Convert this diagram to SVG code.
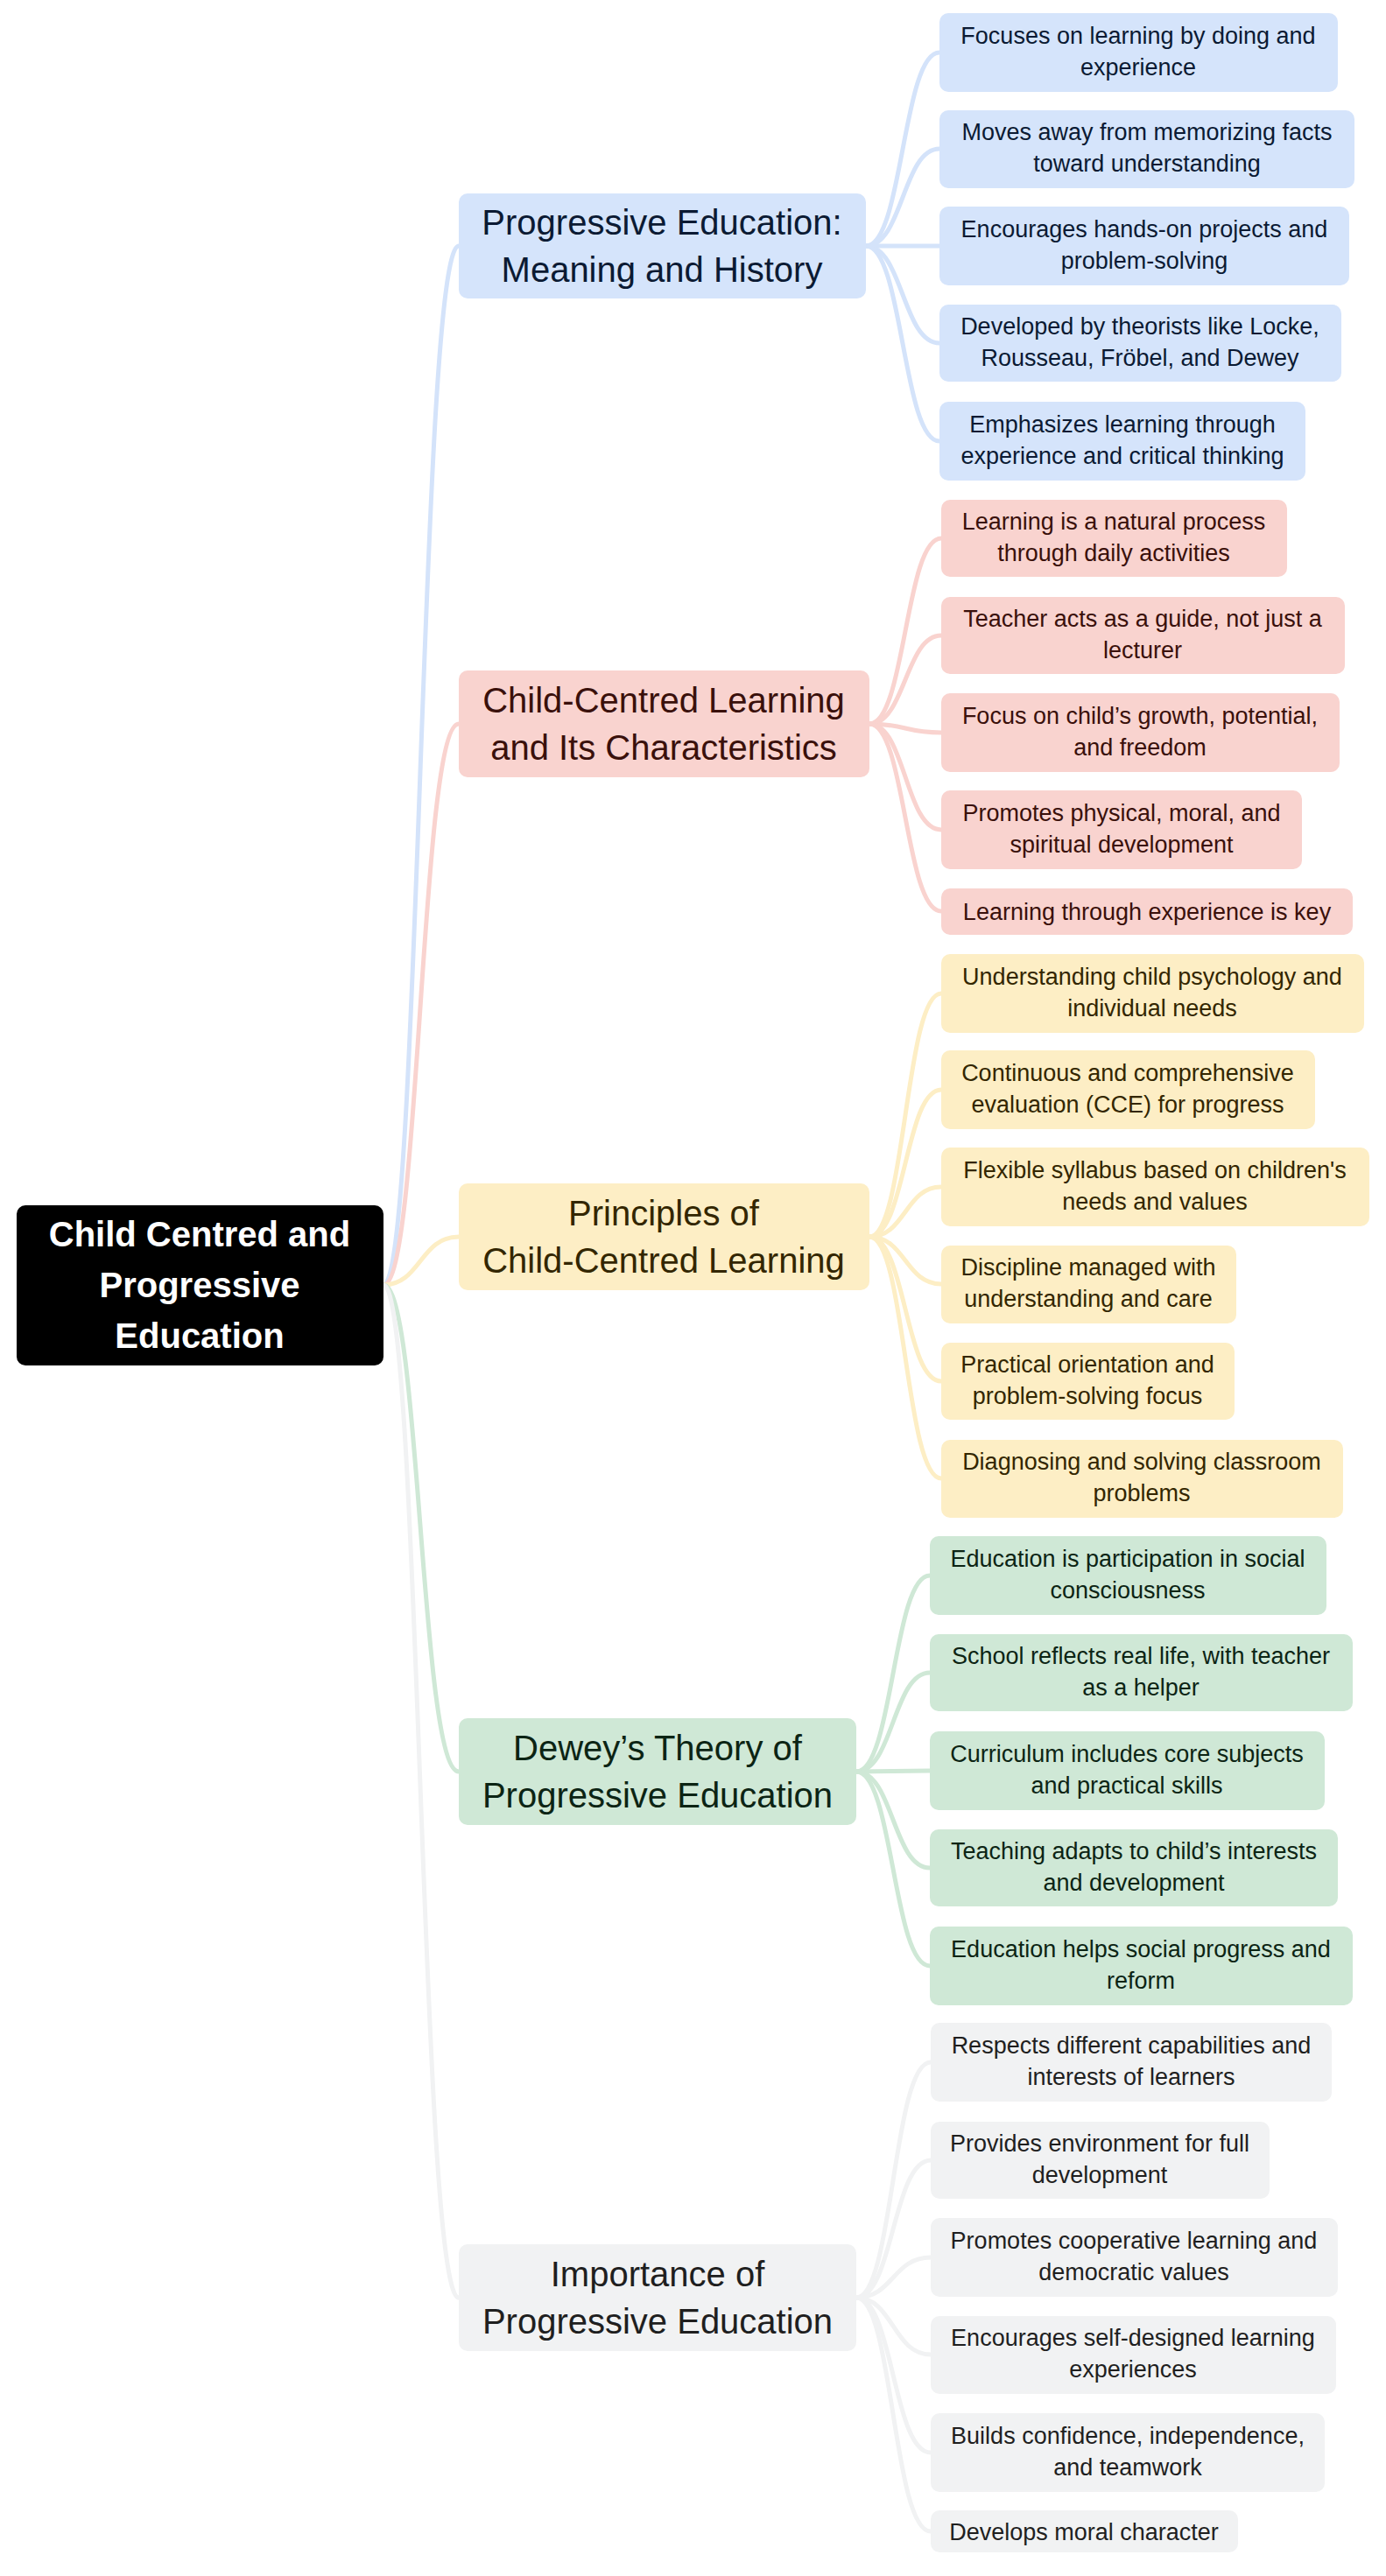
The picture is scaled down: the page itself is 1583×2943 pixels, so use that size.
<svg xmlns="http://www.w3.org/2000/svg" width="1583" height="2943" viewBox="0 0 1583 2943">
<style>
text{font-family:"Liberation Sans",Arial,sans-serif;text-anchor:middle}
.l1{font-size:40px}.lf{font-size:27px}
.e{fill:none;stroke-width:5}
.b rect{fill:#d5e4fb}.b text{fill:#0b1a33}
.r rect{fill:#f9d3cf}.r text{fill:#3a100b}
.y rect{fill:#fdeec5}.y text{fill:#332600}
.g rect{fill:#cfe8d6}.g text{fill:#0c2414}
.k rect{fill:#f1f2f3}.k text{fill:#1f1f1f}
</style>
<rect width="1583" height="2943" fill="#fff"/>
<g id="connectors">
<g stroke="#d4e3fa" class="e"><path class="e" d="M438 1468 C480 1468,480 281,524 281"/>
<path class="e" d="M989 281 C1031 281,1031 60,1073 60"/><path class="e" d="M989 281 C1031 281,1031 170,1073 170"/><path class="e" d="M989 281 C1031 281,1031 281,1073 281"/><path class="e" d="M989 281 C1031 281,1031 392,1073 392"/><path class="e" d="M989 281 C1031 281,1031 504,1073 504"/></g>
<g stroke="#f9d3cf" class="e"><path class="e" d="M438 1468 C480 1468,480 827,524 827"/>
<path class="e" d="M993 827 C1034 827,1034 615,1075 615"/><path class="e" d="M993 827 C1034 827,1034 726,1075 726"/><path class="e" d="M993 827 C1034 827,1034 837,1075 837"/><path class="e" d="M993 827 C1034 827,1034 948,1075 948"/><path class="e" d="M993 827 C1034 827,1034 1041,1075 1041"/></g>
<g stroke="#fdeec5" class="e"><path class="e" d="M438 1468 C480 1468,480 1413,524 1413"/>
<path class="e" d="M993 1413 C1034 1413,1034 1135,1075 1135"/><path class="e" d="M993 1413 C1034 1413,1034 1245,1075 1245"/><path class="e" d="M993 1413 C1034 1413,1034 1356,1075 1356"/><path class="e" d="M993 1413 C1034 1413,1034 1467,1075 1467"/><path class="e" d="M993 1413 C1034 1413,1034 1578,1075 1578"/><path class="e" d="M993 1413 C1034 1413,1034 1689,1075 1689"/></g>
<g stroke="#cfe8d6" class="e"><path class="e" d="M438 1468 C480 1468,480 2024,524 2024"/>
<path class="e" d="M978 2024 C1020 2024,1020 1800,1062 1800"/><path class="e" d="M978 2024 C1020 2024,1020 1911,1062 1911"/><path class="e" d="M978 2024 C1020 2024,1020 2023,1062 2023"/><path class="e" d="M978 2024 C1020 2024,1020 2134,1062 2134"/><path class="e" d="M978 2024 C1020 2024,1020 2246,1062 2246"/></g>
<g stroke="#f1f2f3" class="e"><path class="e" d="M438 1468 C480 1468,480 2625,524 2625"/>
<path class="e" d="M978 2625 C1020 2625,1020 2356,1063 2356"/><path class="e" d="M978 2625 C1020 2625,1020 2468,1063 2468"/><path class="e" d="M978 2625 C1020 2625,1020 2579,1063 2579"/><path class="e" d="M978 2625 C1020 2625,1020 2690,1063 2690"/><path class="e" d="M978 2625 C1020 2625,1020 2802,1063 2802"/><path class="e" d="M978 2625 C1020 2625,1020 2892,1063 2892"/></g>
</g>
<g id="root"><rect x="19" y="1377" width="419" height="183" rx="10" fill="#000"/>
<text font-size="40" font-weight="bold" fill="#fff"><tspan x="228" y="1424">Child Centred and</tspan><tspan x="228" y="1482">Progressive</tspan><tspan x="228" y="1540">Education</tspan></text></g>

<g id="n1" class="b"><rect x="524" y="221" width="465" height="120" rx="10"/><text class="l1"><tspan x="756" y="268">Progressive Education:</tspan><tspan x="756" y="322">Meaning and History</tspan></text></g>
<g id="n1a" class="b"><rect x="1073" y="15" width="455" height="90" rx="10"/><text class="lf"><tspan x="1300" y="50">Focuses on learning by doing and</tspan><tspan x="1300" y="86">experience</tspan></text></g>
<g id="n1b" class="b"><rect x="1073" y="126" width="474" height="89" rx="10"/><text class="lf"><tspan x="1310" y="160">Moves away from memorizing facts</tspan><tspan x="1310" y="196">toward understanding</tspan></text></g>
<g id="n1c" class="b"><rect x="1073" y="236" width="468" height="90" rx="10"/><text class="lf"><tspan x="1307" y="271">Encourages hands-on projects and</tspan><tspan x="1307" y="307">problem-solving</tspan></text></g>
<g id="n1d" class="b"><rect x="1073" y="348" width="459" height="88" rx="10"/><text class="lf"><tspan x="1302" y="382">Developed by theorists like Locke,</tspan><tspan x="1302" y="418">Rousseau, Fröbel, and Dewey</tspan></text></g>
<g id="n1e" class="b"><rect x="1073" y="459" width="418" height="90" rx="10"/><text class="lf"><tspan x="1282" y="494">Emphasizes learning through</tspan><tspan x="1282" y="530">experience and critical thinking</tspan></text></g>

<g id="n2" class="r"><rect x="524" y="766" width="469" height="122" rx="10"/><text class="l1"><tspan x="758" y="814">Child-Centred Learning</tspan><tspan x="758" y="868">and Its Characteristics</tspan></text></g>
<g id="n2a" class="r"><rect x="1075" y="571" width="395" height="88" rx="10"/><text class="lf"><tspan x="1272" y="605">Learning is a natural process</tspan><tspan x="1272" y="641">through daily activities</tspan></text></g>
<g id="n2b" class="r"><rect x="1075" y="682" width="461" height="88" rx="10"/><text class="lf"><tspan x="1305" y="716">Teacher acts as a guide, not just a</tspan><tspan x="1305" y="752">lecturer</tspan></text></g>
<g id="n2c" class="r"><rect x="1075" y="792" width="455" height="90" rx="10"/><text class="lf"><tspan x="1302" y="827">Focus on child’s growth, potential,</tspan><tspan x="1302" y="863">and freedom</tspan></text></g>
<g id="n2d" class="r"><rect x="1075" y="903" width="412" height="90" rx="10"/><text class="lf"><tspan x="1281" y="938">Promotes physical, moral, and</tspan><tspan x="1281" y="974">spiritual development</tspan></text></g>
<g id="n2e" class="r"><rect x="1075" y="1015" width="470" height="53" rx="10"/><text class="lf"><tspan x="1310" y="1051">Learning through experience is key</tspan></text></g>

<g id="n3" class="y"><rect x="524" y="1352" width="469" height="122" rx="10"/><text class="l1"><tspan x="758" y="1400">Principles of</tspan><tspan x="758" y="1454">Child-Centred Learning</tspan></text></g>
<g id="n3a" class="y"><rect x="1075" y="1090" width="483" height="90" rx="10"/><text class="lf"><tspan x="1316" y="1125">Understanding child psychology and</tspan><tspan x="1316" y="1161">individual needs</tspan></text></g>
<g id="n3b" class="y"><rect x="1075" y="1200" width="427" height="90" rx="10"/><text class="lf"><tspan x="1288" y="1235">Continuous and comprehensive</tspan><tspan x="1288" y="1271">evaluation (CCE) for progress</tspan></text></g>
<g id="n3c" class="y"><rect x="1075" y="1311" width="489" height="90" rx="10"/><text class="lf"><tspan x="1319" y="1346">Flexible syllabus based on children's</tspan><tspan x="1319" y="1382">needs and values</tspan></text></g>
<g id="n3d" class="y"><rect x="1075" y="1423" width="337" height="89" rx="10"/><text class="lf"><tspan x="1243" y="1457">Discipline managed with</tspan><tspan x="1243" y="1493">understanding and care</tspan></text></g>
<g id="n3e" class="y"><rect x="1075" y="1534" width="335" height="88" rx="10"/><text class="lf"><tspan x="1242" y="1568">Practical orientation and</tspan><tspan x="1242" y="1604">problem-solving focus</tspan></text></g>
<g id="n3f" class="y"><rect x="1075" y="1645" width="459" height="89" rx="10"/><text class="lf"><tspan x="1304" y="1679">Diagnosing and solving classroom</tspan><tspan x="1304" y="1715">problems</tspan></text></g>

<g id="n4" class="g"><rect x="524" y="1963" width="454" height="122" rx="10"/><text class="l1"><tspan x="751" y="2011">Dewey’s Theory of</tspan><tspan x="751" y="2065">Progressive Education</tspan></text></g>
<g id="n4a" class="g"><rect x="1062" y="1755" width="453" height="90" rx="10"/><text class="lf"><tspan x="1288" y="1790">Education is participation in social</tspan><tspan x="1288" y="1826">consciousness</tspan></text></g>
<g id="n4b" class="g"><rect x="1062" y="1867" width="483" height="88" rx="10"/><text class="lf"><tspan x="1303" y="1901">School reflects real life, with teacher</tspan><tspan x="1303" y="1937">as a helper</tspan></text></g>
<g id="n4c" class="g"><rect x="1062" y="1978" width="451" height="90" rx="10"/><text class="lf"><tspan x="1287" y="2013">Curriculum includes core subjects</tspan><tspan x="1287" y="2049">and practical skills</tspan></text></g>
<g id="n4d" class="g"><rect x="1062" y="2090" width="466" height="88" rx="10"/><text class="lf"><tspan x="1295" y="2124">Teaching adapts to child’s interests</tspan><tspan x="1295" y="2160">and development</tspan></text></g>
<g id="n4e" class="g"><rect x="1062" y="2201" width="483" height="90" rx="10"/><text class="lf"><tspan x="1303" y="2236">Education helps social progress and</tspan><tspan x="1303" y="2272">reform</tspan></text></g>

<g id="n5" class="k"><rect x="524" y="2564" width="454" height="122" rx="10"/><text class="l1"><tspan x="751" y="2612">Importance of</tspan><tspan x="751" y="2666">Progressive Education</tspan></text></g>
<g id="n5a" class="k"><rect x="1063" y="2311" width="458" height="90" rx="10"/><text class="lf"><tspan x="1292" y="2346">Respects different capabilities and</tspan><tspan x="1292" y="2382">interests of learners</tspan></text></g>
<g id="n5b" class="k"><rect x="1063" y="2424" width="387" height="88" rx="10"/><text class="lf"><tspan x="1256" y="2458">Provides environment for full</tspan><tspan x="1256" y="2494">development</tspan></text></g>
<g id="n5c" class="k"><rect x="1063" y="2534" width="465" height="90" rx="10"/><text class="lf"><tspan x="1295" y="2569">Promotes cooperative learning and</tspan><tspan x="1295" y="2605">democratic values</tspan></text></g>
<g id="n5d" class="k"><rect x="1063" y="2646" width="463" height="89" rx="10"/><text class="lf"><tspan x="1294" y="2680">Encourages self-designed learning</tspan><tspan x="1294" y="2716">experiences</tspan></text></g>
<g id="n5e" class="k"><rect x="1063" y="2757" width="450" height="90" rx="10"/><text class="lf"><tspan x="1288" y="2792">Builds confidence, independence,</tspan><tspan x="1288" y="2828">and teamwork</tspan></text></g>
<g id="n5f" class="k"><rect x="1063" y="2868" width="351" height="48" rx="10"/><text class="lf"><tspan x="1238" y="2902">Develops moral character</tspan></text></g>
</svg>
